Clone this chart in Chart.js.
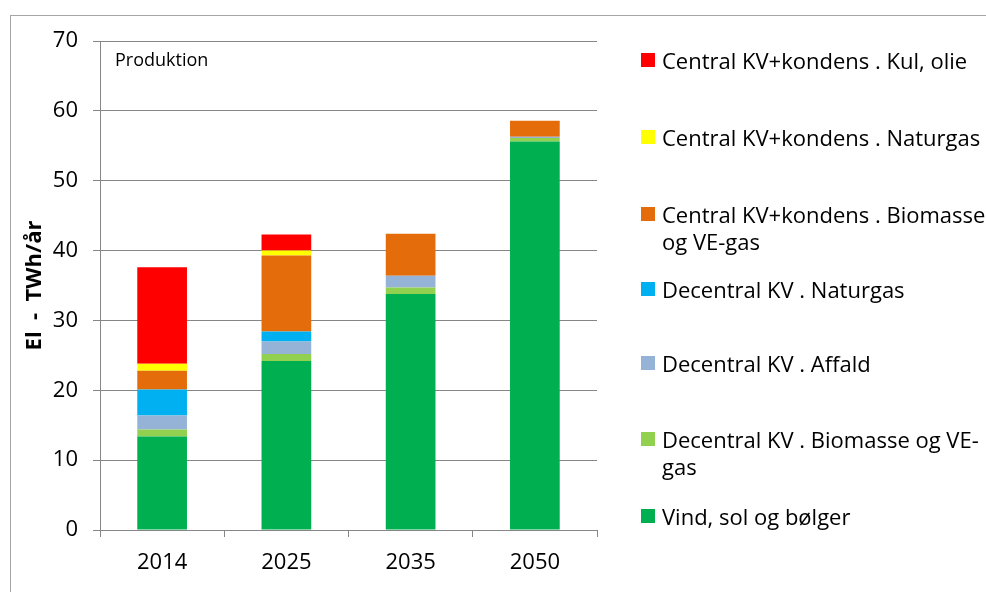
<!DOCTYPE html>
<html>
<head>
<meta charset="utf-8">
<script src="https://cdn.jsdelivr.net/npm/chart.js@4.4.0/dist/chart.umd.min.js"></script>
<style>
  html, body { margin: 0; padding: 0; background: #fff; }
  #wrap { position: relative; width: 986px; height: 592px; overflow: hidden; }
  #frame { position: absolute; left: 10px; top: 15px; width: 985px; height: 600px; border: 1px solid #a6a6a6; box-sizing: border-box; }
  canvas { position: absolute; left: 0; top: 0; }
  #legend { position: absolute; left: 641px; top: 0; width: 345px; font-family: "Open Sans", sans-serif; font-size: 22px; color: #000; }
  .item { position: absolute; left: 0; width: 345px; line-height: 27px; }
  .box { position: absolute; left: 0; top: 6px; width: 14px; height: 14px; }
  .txt { position: absolute; left: 21px; width: 325px; }
</style>
</head>
<body>
<div id="wrap">
  <div id="frame"></div>
  <canvas id="c" width="986" height="592"></canvas>
  <div id="legend"></div>
</div>
<script>
const categories = ["2014", "2025", "2035", "2050"];
const seriesNames = [
  "Vind, sol og bølger",
  "Decentral KV . Biomasse og VE-gas",
  "Decentral KV . Affald",
  "Decentral KV . Naturgas",
  "Central KV+kondens . Biomasse og VE-gas",
  "Central KV+kondens . Naturgas",
  "Central KV+kondens . Kul, olie"
];
const vindSolBoelger      = [13.4, 24.2, 33.8, 55.6];
const decBiomasse         = [1.0, 1.0, 0.9, 0.5];
const decAffald           = [2.0, 1.8, 1.7, 0.2];
const decNaturgas         = [3.7, 1.4, 0, 0];
const cenBiomasse         = [2.7, 10.9, 6.0, 2.3];
const cenNaturgas         = [1.0, 0.7, 0, 0];
const cenKulOlie          = [13.8, 2.3, 0, 0];
const yTicks = [0, 10, 20, 30, 40, 50, 60, 70];
const yTitle = "El  -  TWh/år";
const panelLabel = "Produktion";

const seriesValues = [vindSolBoelger, decBiomasse, decAffald, decNaturgas, cenBiomasse, cenNaturgas, cenKulOlie];
const colors = ["#00B050", "#92D050", "#95B3D7", "#00B0F0", "#E46C0A", "#FFFF00", "#FF0000"];

const font = "'Open Sans', sans-serif";

const datasets = seriesNames.map((n, i) => ({
  label: n,
  data: seriesValues[i],
  backgroundColor: colors[i],
  borderWidth: 0,
  barPercentage: 0.4,
  categoryPercentage: 1.0
}));

const labelPlugin = {
  id: 'panelLabel',
  afterDraw(chart) {
    const ctx = chart.ctx;
    ctx.save();
    ctx.font = "18px " + font;
    ctx.fillStyle = "#000";
    ctx.textBaseline = "middle";
    ctx.fillText(panelLabel, chart.chartArea.left + 15, 61);
    ctx.restore();
  }
};

new Chart(document.getElementById('c'), {
  type: 'bar',
  data: { labels: categories, datasets },
  options: {
    responsive: false,
    animation: false,
    layout: { padding: { left: 10, right: 389, top: 41, bottom: 12 } },
    plugins: { legend: { display: false }, tooltip: { enabled: false } },
    scales: {
      x: {
        stacked: true,
        grid: { display: true, drawOnChartArea: false, drawTicks: true, tickLength: 7, offset: true, color: '#868686' },
        border: { color: '#868686' },
        ticks: { font: { family: font, size: 22 }, color: '#000', padding: 13 },
        afterFit(s) { s.height = 50; }
      },
      y: {
        stacked: true,
        min: 0, max: 70,
        afterBuildTicks(s) { s.ticks = yTicks.map(v => ({ value: v })); },
        grid: { color: '#868686', tickLength: 7 },
        border: { color: '#868686' },
        ticks: { font: { family: font, size: 22 }, color: '#000', padding: 15 },
        title: { display: true, text: yTitle, font: { family: font, size: 22, weight: 'bold' }, color: '#000', padding: { top: 12, bottom: 0 } },
        afterFit(s) { s.width = 90; }
      }
    }
  },
  plugins: [labelPlugin]
});

// legend (top to bottom: reverse stacking order)
const legendTops = [47, 124, 201, 276, 350, 426, 503];
const legend = document.getElementById('legend');
for (let k = 0; k < seriesNames.length; k++) {
  const i = seriesNames.length - 1 - k;
  const item = document.createElement('div');
  item.className = 'item';
  item.style.top = legendTops[k] + 'px';
  const box = document.createElement('div');
  box.className = 'box';
  box.style.background = colors[i];
  const txt = document.createElement('div');
  txt.className = 'txt';
  txt.textContent = seriesNames[i];
  item.appendChild(box); item.appendChild(txt);
  legend.appendChild(item);
}
</script>
</body>
</html>
